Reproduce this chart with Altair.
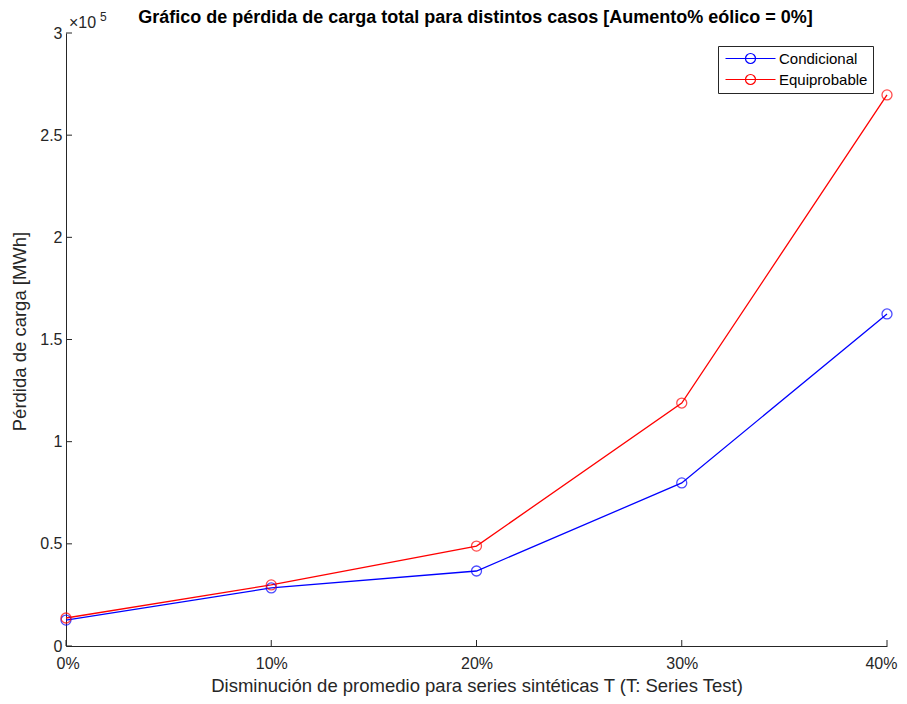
import altair as alt
import pandas as pd

pct = [0, 10, 20, 30, 40]
condicional = [12700, 28400, 36700, 79800, 162500]
equiprobable = [13700, 29900, 48900, 118900, 269700]
series_names = ["Condicional", "Equiprobable"]
series_colors = ["#0000FF", "#FF0000"]
y_ticks = [0, 50000, 100000, 150000, 200000, 250000, 300000]
x_ticks = [0, 10, 20, 30, 40]
title_text = "Gráfico de pérdida de carga total para distintos casos [Aumento% eólico = 0%]"

rows = []
for p, c, e in zip(pct, condicional, equiprobable):
    rows.append({"pct": p, "val": c, "serie": "Condicional"})
    rows.append({"pct": p, "val": e, "serie": "Equiprobable"})
df = pd.DataFrame(rows)

FONT = "Liberation Sans"
W, H = 821, 613

xs = alt.Scale(domain=[0, 40], nice=False, zero=False)
ys = alt.Scale(domain=[0, 300000], nice=False)

sym = "M-1,0L9,0M3,0A1,1,0,1,0,5,0A1,1,0,1,0,3,0"

color = alt.Color(
    "serie:N",
    scale=alt.Scale(domain=series_names, range=series_colors),
    legend=alt.Legend(
        title=None, orient="none", legendX=652, legendY=13,
        symbolType=sym, symbolSize=100, symbolStrokeWidth=1.2,
        labelFont=FONT, labelFontSize=15, labelColor="#000000",
        strokeColor="#262626", fillColor="#FFFFFF", padding=5,
        rowPadding=5, columnPadding=0, labelOffset=41,
    ),
)

xaxis = alt.Axis(
    values=x_ticks, labelExpr="datum.value + '%'", ticks=False, grid=False,
    labelFlush=True, labelFlushOffset=10,
    domainColor="#262626", domainWidth=1, labelColor="#262626", labelFont=FONT,
    labelFontSize=16, labelPadding=9,
    title="Disminución de promedio para series sintéticas T (T: Series Test)",
    titleFont=FONT, titleFontSize=18.5, titleFontWeight="normal", titleColor="#262626", titlePadding=5,
)
yaxis = alt.Axis(
    values=y_ticks, labelExpr="datum.value / 100000 + ''", ticks=False, grid=False,
    domainColor="#262626", domainWidth=1, labelColor="#262626", labelFont=FONT,
    labelFontSize=16, labelPadding=4, title="Pérdida de carga [MWh]", titleY=298,
    titleFont=FONT, titleFontSize=18.5, titleFontWeight="normal", titleColor="#262626", titlePadding=10,
)

base = alt.Chart(df)
lines = base.mark_line(strokeWidth=1.3).encode(
    x=alt.X("pct:Q", scale=xs, axis=xaxis),
    y=alt.Y("val:Q", scale=ys, axis=yaxis),
    color=color,
)
points = base.mark_point(shape="circle", filled=False, size=100, strokeWidth=1.3).encode(
    x=alt.X("pct:Q", scale=xs),
    y=alt.Y("val:Q", scale=ys),
    color=alt.Color("serie:N", scale=alt.Scale(domain=series_names, range=series_colors), legend=None),
)

ytick_df = pd.DataFrame({"v": y_ticks})
xtick_df = pd.DataFrame({"v": x_ticks})
yt = alt.Chart(ytick_df).mark_rule(color="#262626", strokeWidth=1).encode(
    y=alt.Y("v:Q", scale=ys), x=alt.value(0), x2=alt.value(6)
)
xt = alt.Chart(xtick_df).mark_rule(color="#262626", strokeWidth=1).encode(
    x=alt.X("v:Q", scale=xs), y=alt.value(H), y2=alt.value(H - 6)
)

exp_base = alt.Chart(pd.DataFrame({"t": ["×10"]})).mark_text(
    font=FONT, fontSize=16, color="#262626", align="left", baseline="alphabetic"
).encode(text="t:N", x=alt.value(3), y=alt.value(-5))
exp_sup = alt.Chart(pd.DataFrame({"t": ["5"]})).mark_text(
    font=FONT, fontSize=12, color="#262626", align="left", baseline="alphabetic"
).encode(text="t:N", x=alt.value(34), y=alt.value(-12))
title_mark = alt.Chart(pd.DataFrame({"t": [title_text]})).mark_text(
    font=FONT, fontSize=18, fontWeight="bold", color="#000000", align="center", baseline="alphabetic"
).encode(text="t:N", x=alt.value(W / 2 - 1), y=alt.value(-10))

chart = alt.layer(lines, points, yt, xt, exp_base, exp_sup, title_mark).properties(
    width=W, height=H,
    autosize=alt.AutoSizeParams(type="none"),
    padding={"left": 58, "top": 25, "right": 12, "bottom": 54},
).configure_view(stroke=None)

chart.save("out.html", embed_options={"renderer": "svg", "actions": False})
